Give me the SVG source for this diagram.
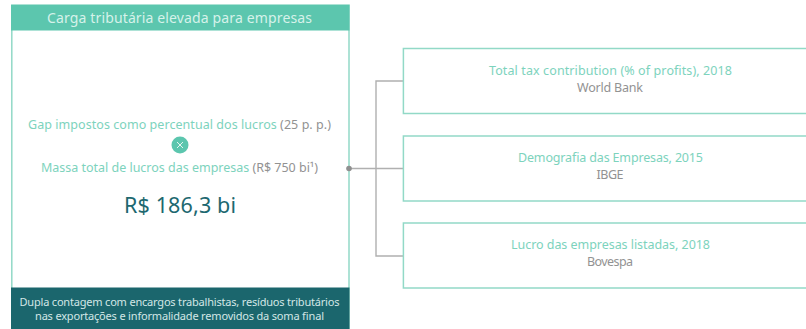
<svg xmlns="http://www.w3.org/2000/svg" width="806" height="329" viewBox="0 0 806 329">
<style>
text{font-family:"Noto Sans","DejaVu Sans",sans-serif;text-anchor:middle}
.box{fill:#fff;stroke:#92d9c7;stroke-width:1.5}
.t{fill:#7dd3bd;font-size:12.5px}
.g{fill:#929292}
.s{fill:#929292;font-size:12.5px}
.c{fill:none;stroke:#b0b0b0;stroke-width:1.4}
.f{fill:#d3e6e6;font-size:11px}
</style>
<rect width="806" height="329" fill="#fff"/>
<g id="main">
<rect class="box" x="11.800" y="5" width="337.200" height="324"/>
<rect x="11" y="5" width="338.500" height="25.500" fill="#5cc6ae"/>
<text x="179.500" y="22.500" font-size="14" fill="#d6f2ea" textLength="265">Carga tributária elevada para empresas</text>
<text x="179.500" y="129" class="t" textLength="303">Gap impostos como percentual dos lucros <tspan class="g">(25 p. p.)</tspan></text>
<circle cx="180" cy="145" r="8.500" fill="#5cc6ae"/>
<path d="M177 142l6 6M183 142l-6 6" stroke="#e4f5f0" stroke-width="1" fill="none"/>
<text x="179.500" y="172" class="t" textLength="277">Massa total de lucros das empresas <tspan class="g">(R$ 750 bi¹)</tspan></text>
<text x="180" y="213" font-size="21.500" fill="#1d6870" textLength="112">R$ 186,3 bi</text>
<rect x="11" y="287.500" width="338.500" height="41.500" fill="#1b666d"/>
<text x="179.500" y="306" class="f" textLength="320">Dupla contagem com encargos trabalhistas, resíduos tributários</text>
<text x="179.500" y="320" class="f" textLength="289">nas exportações e informalidade removidos da soma final</text>
</g>
<g id="connectors">
<path class="c" d="M349 168.500H403M403 81H376V256H403"/>
<circle cx="349" cy="168.500" r="2.800" fill="#8f8f8f"/>
</g>
<g id="node-world-bank">
<rect class="box" x="403.400" y="48.500" width="420" height="65"/>
<text x="610.500" y="75" class="t" textLength="243">Total tax contribution (% of profits), 2018</text>
<text x="610" y="92" class="s" textLength="66">World Bank</text>
</g>
<g id="node-ibge">
<rect class="box" x="403.400" y="136" width="420" height="65"/>
<text x="610.500" y="162" class="t" textLength="185">Demografia das Empresas, 2015</text>
<text x="610" y="179" class="s" textLength="27">IBGE</text>
</g>
<g id="node-bovespa">
<rect class="box" x="403.400" y="223" width="420" height="65"/>
<text x="610.500" y="249" class="t" textLength="199">Lucro das empresas listadas, 2018</text>
<text x="610" y="266" class="s" textLength="46">Bovespa</text>
</g>
</svg>
